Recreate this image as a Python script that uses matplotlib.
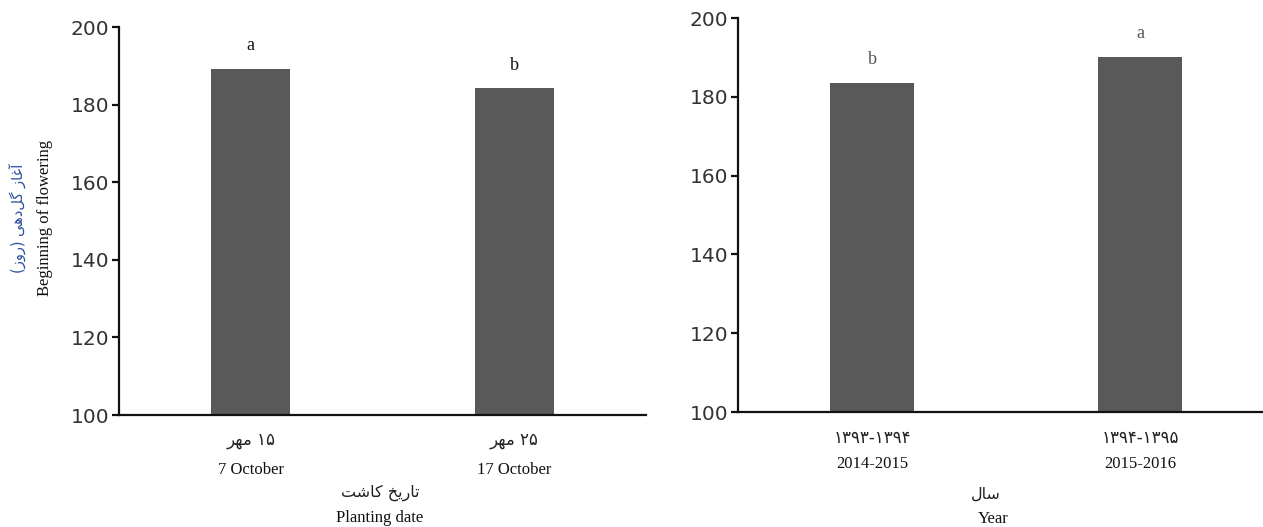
import matplotlib
matplotlib.use('Agg')
import matplotlib.pyplot as plt

# planting date panel
date_fa = ['\uFEAE\uFEEC\uFEE3 \u06F1\u06F5', '\uFEAE\uFEEC\uFEE3 \u06F2\u06F5']   # ۱۵ مهر / ۲۵ مهر
date_en = ['7 October', '17 October']
date_vals = [189.3, 184.2]
date_grp = ['a', 'b']

# year panel
year_fa = ['\u06F1\u06F3\u06F9\u06F3-\u06F1\u06F3\u06F9\u06F4', '\u06F1\u06F3\u06F9\u06F4-\u06F1\u06F3\u06F9\u06F5']
year_en = ['2014-2015', '2015-2016']
year_vals = [183.5, 190.1]
year_grp = ['b', 'a']

# Persian strings in presentation forms, visual (left-to-right) order
FA_PLANTING = '\uFE96\uFEB7\uFE8E\uFB90 \uFEA6\uFBFE\uFEAD\uFE8E\uFE97'          # تاریخ کاشت
FA_YEAR = '\uFEDD\uFE8E\uFEB3'                                                   # سال
FA_FLOWER = '(\uFEAF\uFEED\uFEAD) \uFBFD\uFEEB\uFEA9\uFEDE\uFB94 \uFEAF\uFE8E\uFECF\uFE81'  # آغاز گل‌دهی (روز)

BAR = '#595959'
SERIF = 'Liberation Serif'
SANS = 'DejaVu Sans'
FA = ['DejaVu Sans']

fig = plt.figure(figsize=(12.63, 5.27), dpi=100)
fig.patch.set_facecolor('white')

ax1 = fig.add_axes([0.0942, 0.2125, 0.4173, 0.7362])
ax2 = fig.add_axes([0.5843, 0.2182, 0.4244, 0.7476])


def panel(ax, vals, grp, fa, en, bw, ty, lcol):
    xs = list(range(len(vals)))
    ax.bar(xs, vals, width=bw, color=BAR, zorder=2)
    ax.set_xlim(-0.5, len(vals) - 0.5)
    ax.set_ylim(100, 200)
    ax.set_yticks([100, 120, 140, 160, 180, 200])
    ax.set_xticks([])
    for s in ['top', 'right']:
        ax.spines[s].set_visible(False)
    for s in ['left', 'bottom']:
        ax.spines[s].set_linewidth(1.6)
        ax.spines[s].set_color('#111111')
    ax.tick_params(axis='y', direction='out', length=5, width=1.6,
                   labelsize=14.5, colors='#111111', labelcolor='#333333', pad=2)
    for lab in ax.get_yticklabels():
        lab.set_fontfamily(SANS)
    tr = ax.get_xaxis_transform()
    for x, v, g, f, e in zip(xs, vals, grp, fa, en):
        ax.text(x, v + 6.0, g, ha='center', va='center', fontsize=13,
                family=SERIF, color=lcol)
        ax.text(x, ty[0], f, transform=tr, ha='center', va='center',
                fontsize=12, family=FA, color='#222222')
        ax.text(x, ty[1], e, transform=tr, ha='center', va='center',
                fontsize=12, family=SERIF, color='#111111')


panel(ax1, date_vals, date_grp, date_fa, date_en, 0.30, (-0.064, -0.142), '#111111')
panel(ax2, year_vals, year_grp, year_fa, year_en, 0.31, (-0.066, -0.132), '#555555')

# axis titles
ax1.text(0.495, -0.201, FA_PLANTING, transform=ax1.transAxes, ha='center',
         va='center', fontsize=11.5, family=FA, color='#222222')
ax1.text(0.495, -0.265, 'Planting date', transform=ax1.transAxes, ha='center',
         va='center', fontsize=12, family=SERIF, color='#111111')
ax2.text(0.462, -0.208, FA_YEAR, transform=ax2.transAxes, ha='center',
         va='center', fontsize=11.5, family=FA, color='#222222')
ax2.text(0.476, -0.272, 'Year', transform=ax2.transAxes, ha='center',
         va='center', fontsize=12, family=SERIF, color='#111111')

ax1.text(-0.192, 0.508, FA_FLOWER, transform=ax1.transAxes, rotation=90,
         ha='center', va='center', fontsize=10.5, family=FA, color='#2F4FA0')
ax1.text(-0.140, 0.508, 'Beginning of flowering', transform=ax1.transAxes,
         rotation=90, ha='center', va='center', fontsize=12, family=SERIF,
         color='#111111')

fig.savefig('out.png', dpi=100, facecolor='white')
